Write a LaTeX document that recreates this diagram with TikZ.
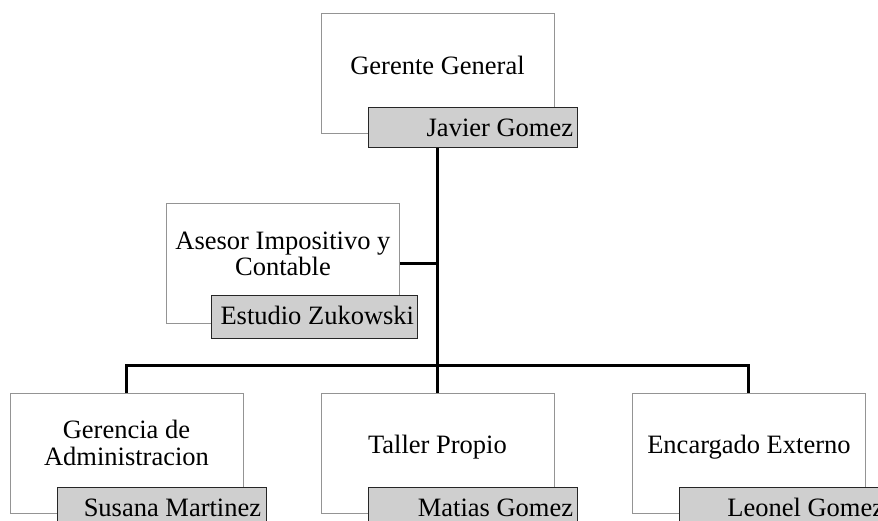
\documentclass[tikz,border=0pt]{standalone}
\usepackage{fontspec}
\setmainfont{Liberation Serif}
\begin{document}
\begin{tikzpicture}[x=1pt,y=-1pt,
 outerbox/.style={draw=black!42, line width=0.9pt, fill=white, minimum width=233pt, minimum height=120pt, anchor=north west, inner sep=0pt},
 namebox/.style={draw=black!85, line width=1.3pt, fill=black!19, minimum width=209pt, minimum height=40pt, anchor=north west, inner sep=0pt},
 ttl/.style={font=\fontsize{26.5}{26.5}\selectfont, align=center, anchor=base, inner sep=0pt},
 nm/.style={font=\fontsize{26.5}{26.5}\selectfont, anchor=base east, inner sep=0pt},
 conn/.style={line width=3pt, black}]
\useasboundingbox (0,0) rectangle (878,521);
\clip (0,0) rectangle (878,521);

% boxes
\node[outerbox] (gg) at (320.5,13) {};
\node[namebox] (ggn) at (368,107) {};
\node[ttl] (ggt) at ([yshift=-62pt]gg.north) {Gerente General};
\node[nm] (ggnt) at ([xshift=-5pt,yshift=-30pt]ggn.north east) {Javier Gomez};

\node[outerbox] (as) at (166,203) {};
\node[namebox, minimum width=206pt, minimum height=43pt] (asn) at (211,295) {};
\node[ttl] (ast) at ([yshift=-73pt]as.north) {Asesor Impositivo y\\Contable};
\node[nm] (asnt) at ([xshift=-4pt,yshift=-29pt]asn.north east) {Estudio Zukowski};

\node[outerbox] (ga) at (9.5,393) {};
\node[namebox] (gan) at (57,487) {};
\node[ttl] (gat) at ([yshift=-72pt]ga.north) {Gerencia de\\Administracion};
\node[nm] (gant) at ([xshift=-6pt,yshift=-29pt]gan.north east) {Susana Martinez};

\node[outerbox] (tp) at (320.5,392.5) {};
\node[namebox] (tpn) at (368,486.5) {};
\node[ttl] (tpt) at ([yshift=-61pt]tp.north) {Taller Propio};
\node[nm] (tpnt) at ([xshift=-5pt,yshift=-29.5pt]tpn.north east) {Matias Gomez};

\node[outerbox] (ee) at (632,393) {};
\node[namebox] (een) at (679,487) {};
\node[ttl] (eet) at ([yshift=-60pt]ee.north) {Encargado Externo};
\node[nm] (eent) at ([xshift=-5pt,yshift=-29pt]een.north east) {Leonel Gomez};

% connectors
\coordinate (bar) at (437,365);
\draw[conn] (gg.south |- ggn.south) -- (gg.south |- bar);
\draw[conn] (as.east) -- (as.east -| gg.south);
\draw[conn] (ga.north) -- (ga.north |- bar) -- (ee.north |- bar) -- (ee.north);
\draw[conn] (gg.south |- bar) -- (tp.north);
\end{tikzpicture}
\end{document}
